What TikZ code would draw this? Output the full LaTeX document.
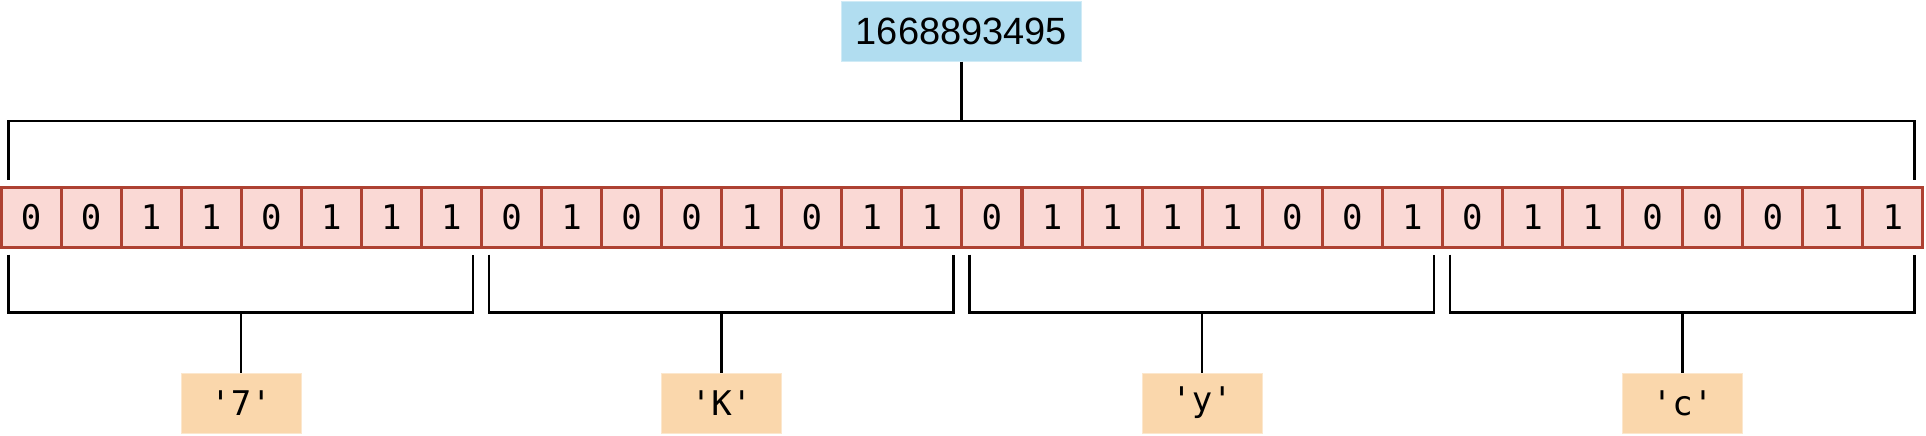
\documentclass[tikz,border=0pt]{standalone}
\usepackage{fontspec}
\setmainfont{Liberation Sans}
\newfontfamily\bitfont{DejaVu Sans Mono}

\definecolor{bitfill}{HTML}{FAD9D5}
\definecolor{bitline}{HTML}{AE4132}
\definecolor{valuefill}{HTML}{B1DDF0}
\definecolor{charfill}{HTML}{FAD7AC}

\begin{document}
\begin{tikzpicture}[x = 0.5pt, y = -0.5pt, line width = 1.25pt,
    every node/.style = {inner sep = 0pt, anchor = center},
    bitcell/.style = {draw = bitline, fill = bitfill, line width = 1.5pt,
        minimum width = 30pt, minimum height = 30pt, font = \bitfont\fontsize{17}{20}\selectfont},
    valuebox/.style = {draw = valuefill!60!white, fill = valuefill, line width = 0.5pt,
        minimum width = 120pt, minimum height = 30pt, font = \fontsize{19}{22}\selectfont},
    charbox/.style = {draw = charfill!60!white, fill = charfill, line width = 0.5pt,
        minimum width = 60pt, minimum height = 30pt, font = \bitfont\fontsize{17}{20}\selectfont}]
    \useasboundingbox (0,0) rectangle (1926,435);
        % the number and its 32 bits
        \node[valuebox] (value) at (961.5,31) {1668893495};
        \foreach \b [count = \i from 0] in {0,0,1,1,0,1,1,1, 0,1,0,0,1,0,1,1,
                                            0,1,1,1,1,0,0,1, 0,1,1,0,0,0,1,1}
            \node[bitcell] (bit\i) at (31 + 60.06*\i, 217) {\b};
        % bracket over all bits
        \coordinate (split) at (961.5,121);
        \draw (value.south) -- (split);
        \draw ([xshift = 4.5pt, yshift = 3pt]bit0.north west) |- (split)
            -| ([xshift = -5pt, yshift = 3pt]bit31.north east);
        % one bracket per byte
        \foreach \ch [count = \g from 0] in {'7','K','y','c'} {
            \pgfmathtruncatemacro{\first}{8*\g}
            \pgfmathtruncatemacro{\last}{8*\g + 7}
            \node[charbox] (char\g) at (241 + 480.5*\g, 403) {\ch};
            \coordinate (join\g) at ([yshift = 30pt]char\g.north);
            \draw ([xshift = 4.5pt, yshift = -3pt]bit\first.south west) |- (join\g)
                -| ([xshift = -5pt, yshift = -3pt]bit\last.south east);
            \draw (join\g) -- (char\g.north);
        }
\end{tikzpicture}
\end{document}
